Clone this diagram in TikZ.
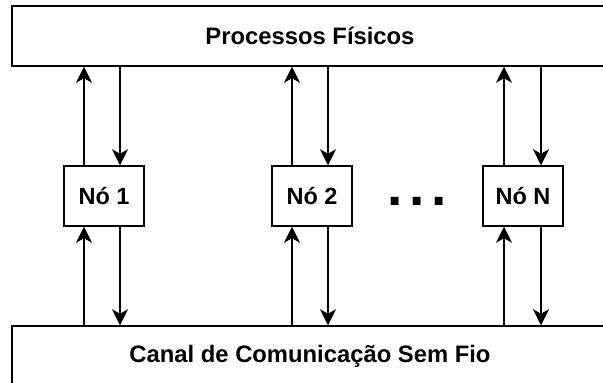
\documentclass[tikz,border=0pt]{standalone}
\usepackage{fontspec}
\setmainfont{Liberation Sans}
\usetikzlibrary{arrows.meta}

\tikzstyle{faixa} = [draw, line width=1.5pt, rectangle,
    minimum width=596pt, minimum height=60pt,
    font=\fontsize{23.8}{28}\selectfont\bfseries]
\tikzstyle{no} = [draw, line width=1.5pt, rectangle,
    minimum width=80pt, minimum height=60pt,
    font=\fontsize{23.5}{28}\selectfont\bfseries]
\tikzstyle{pontos} = [inner sep=0pt, font=\fontsize{55}{60}\selectfont\bfseries]
\tikzstyle{seta} = [line width=1.3pt, -{Stealth[length=16pt,width=16pt,inset=4.5pt]}]

\begin{document}
\begin{tikzpicture}[x=1pt, y=-1pt]
    \clip (0,0) rectangle (603,383);
    \node [faixa] (fisico) at (310,36) {Processos Físicos};
    \node [faixa] (canal) at (310,356) {Canal de Comunicação Sem Fio};
    \node [no] (no1) at (104,196) {Nó 1};
    \node [no] (no2) at (312,196) {Nó 2};
    \node [no] (noN) at (523,196) {Nó N};
    \node [pontos] (dots) at (417,201) {.\hspace{6.7pt}.\hspace{6.7pt}.};
    % nos <-> processos fisicos
    \draw [seta] ([xshift=-20pt]no1.north) -- ([xshift=-20pt]no1.north |- fisico.south);
    \draw [seta] ([xshift=16pt]no1.north |- fisico.south) -- ([xshift=16pt]no1.north);
    \draw [seta] ([xshift=-20pt]no2.north) -- ([xshift=-20pt]no2.north |- fisico.south);
    \draw [seta] ([xshift=16pt]no2.north |- fisico.south) -- ([xshift=16pt]no2.north);
    \draw [seta] ([xshift=-19pt]noN.north) -- ([xshift=-19pt]noN.north |- fisico.south);
    \draw [seta] ([xshift=18pt]noN.north |- fisico.south) -- ([xshift=18pt]noN.north);
    % nos <-> canal sem fio
    \draw [seta] ([xshift=-20pt]no1.south |- canal.north) -- ([xshift=-20pt]no1.south);
    \draw [seta] ([xshift=16pt]no1.south) -- ([xshift=16pt]no1.south |- canal.north);
    \draw [seta] ([xshift=-20pt]no2.south |- canal.north) -- ([xshift=-20pt]no2.south);
    \draw [seta] ([xshift=16pt]no2.south) -- ([xshift=16pt]no2.south |- canal.north);
    \draw [seta] ([xshift=-19pt]noN.south |- canal.north) -- ([xshift=-19pt]noN.south);
    \draw [seta] ([xshift=18pt]noN.south) -- ([xshift=18pt]noN.south |- canal.north);
\end{tikzpicture}
\end{document}
